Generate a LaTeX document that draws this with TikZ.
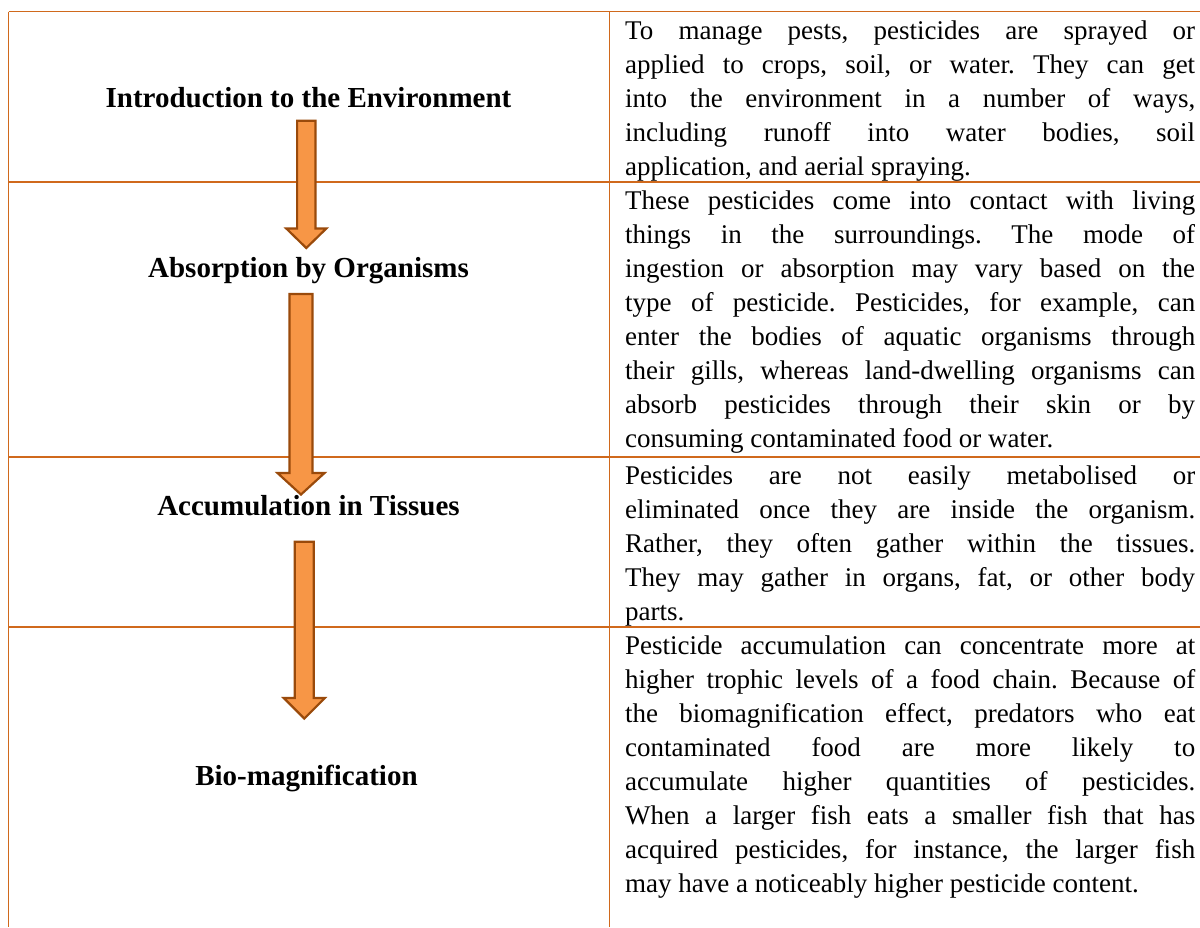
\documentclass[tikz,border=0pt]{standalone}
\usepackage{fontspec}
\setmainfont{Liberation Serif}
\definecolor{tableline}{HTML}{D0691C}
\definecolor{arrowfill}{HTML}{F79646}
\definecolor{arrowedge}{HTML}{9A4A0B}
\newcommand{\blockarrow}[6]{%
  \draw[blockarrowstyle] (#1-#3,#2) -- (#1+#3,#2) -- (#1+#3,#4) -- (#1+#5,#4) -- (#1,#6) -- (#1-#5,#4) -- (#1-#3,#4) -- cycle;}
\newcommand{\celltext}[1]{\vtop{\hsize=570pt\parindent=0pt\tolerance=10000\hbadness=10000\hyphenpenalty=10000\exhyphenpenalty=10000\rightskip=0pt\leftskip=0pt\frenchspacing #1\par}}
\tikzset{
  blockarrowstyle/.style={fill=arrowfill, draw=arrowedge, line width=2.2pt, line join=miter},
  tline/.style={draw=tableline, line width=1.6pt},
  stage/.style={anchor=base, inner sep=0pt, font=\bfseries\fontsize{29}{34}\selectfont},
  desc/.style={anchor=base west, inner sep=0pt, font=\fontsize{27}{34}\selectfont}
}
\begin{document}
\begin{tikzpicture}[x=1pt,y=-1pt]
\fill[white] (0,0) rectangle (1200,927);
\useasboundingbox (0,0) rectangle (1200,927);
% table lines
\coordinate (tl) at (8.5,11.5);
\coordinate (tr) at (1200,11.5);
\coordinate (bl) at (8.5,927);
\coordinate (ct) at (609.3,11.5);
\coordinate (cb) at (609.3,927);
\coordinate (r1l) at (8.5,181.7);
\coordinate (r1r) at (1200,181.7);
\coordinate (r2l) at (8.5,456.7);
\coordinate (r2r) at (1200,456.7);
\coordinate (r3l) at (8.5,627);
\coordinate (r3r) at (1200,627);
\draw[tline] (tl) -- (tr);
\draw[tline] (tl) -- (bl);
\draw[tline] (ct) -- (cb);
\draw[tline] (r1l) -- (r1r);
\draw[tline] (r2l) -- (r2r);
\draw[tline] (r3l) -- (r3r);
% stage labels
\node[stage] (intro) at (308.5,107.3) {Introduction to the Environment};
\node[stage] (absorb) at (308.5,277.3) {Absorption by Organisms};
\node[stage] (accum) at (308.5,515) {Accumulation in Tissues};
\node[stage] (biomag) at (306.5,785) {Bio-magnification};
% arrows
\blockarrow{306.3}{120.7}{9.2}{228.5}{20}{248}
\blockarrow{301}{294}{11.5}{473}{23.5}{494.5}
\blockarrow{304.3}{541.7}{9.5}{698}{20.5}{718.5}
% descriptions
\node[desc] (d1) at (625,39) {\celltext{To manage pests, pesticides are sprayed or\break applied to crops, soil, or water. They can get\break into the environment in a number of ways,\break including runoff into water bodies, soil\break application, and aerial spraying.}};
\node[desc] (d2) at (625,209) {\celltext{These pesticides come into contact with living\break things in the surroundings. The mode of\break ingestion or absorption may vary based on the\break type of pesticide. Pesticides, for example, can\break enter the bodies of aquatic organisms through\break their gills, whereas land-dwelling organisms can\break absorb pesticides through their skin or by\break consuming contaminated food or water.}};
\node[desc] (d3) at (625,484) {\celltext{Pesticides are not easily metabolised or\break eliminated once they are inside the organism.\break Rather, they often gather within the tissues.\break They may gather in organs, fat, or other body\break parts.}};
\node[desc] (d4) at (625,654.5) {\celltext{Pesticide accumulation can concentrate more at\break higher trophic levels of a food chain. Because of\break the biomagnification effect, predators who eat\break contaminated food are more likely to\break accumulate higher quantities of pesticides.\break When a larger fish eats a smaller fish that has\break acquired pesticides, for instance, the larger fish\break may have a noticeably higher pesticide content.}};
\end{tikzpicture}
\end{document}
